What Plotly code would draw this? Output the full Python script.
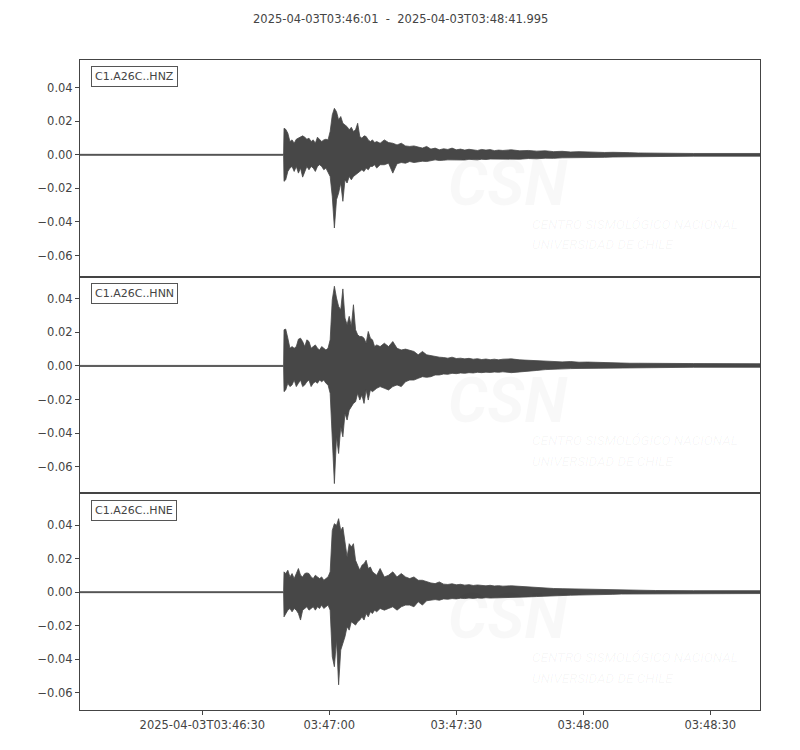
import pandas as pd
import plotly.graph_objects as go
from plotly.subplots import make_subplots

# ---------------- data ----------------
start_time = "2025-04-03T03:46:01"
end_label = "2025-04-03T03:48:41.995"
channels = ["C1.A26C..HNZ", "C1.A26C..HNN", "C1.A26C..HNE"]

# seconds after start at which the envelope was read
seconds = [0, 48.2,
           48.3, 48.7, 49.2, 49.7, 50.2, 50.7, 51.2, 51.7, 52.2, 52.7, 53.2, 53.7, 54.2, 54.7,
           55.2, 55.7, 56.2, 56.7, 57.2, 57.7, 58.2, 58.7, 59.2, 59.7, 60.2, 60.7, 61.2, 61.7,
           62.2, 62.7, 63.2, 63.7, 64.2, 64.7, 65.2, 65.7, 66.2, 66.7, 67.2, 67.7, 68.2, 68.7,
           69.2, 69.7, 70.2,
           71, 72, 73, 74, 75, 76, 77, 78, 79, 80, 81, 82, 83, 84, 85, 86, 87, 88, 89, 90,
           91, 92, 93, 94, 95, 96, 97, 98, 99, 100,
           102, 104, 106, 108, 110, 112, 114, 116, 118, 120, 122, 124, 126, 128, 130, 132, 134, 136,
           145, 161.995]

# HNZ envelope
hnz_max = [0.0003, 0.0003,
           0.0158, 0.0152, 0.0129, 0.0079, 0.0089, 0.0069, 0.0093, 0.0099, 0.0109, 0.0113, 0.0105, 0.0093, 0.0099, 0.0079,
           0.0089, 0.0069, 0.0105, 0.0093, 0.0079, 0.0089, 0.0093, 0.0089, 0.0139, 0.0238, 0.0277, 0.0257, 0.0208, 0.0228,
           0.0188, 0.0178, 0.0168, 0.0149, 0.0164, 0.0139, 0.0149, 0.0188, 0.0109, 0.0099, 0.0113, 0.0109, 0.0089, 0.0079,
           0.0089, 0.0073, 0.0079,
           0.0069, 0.0089, 0.0073, 0.0069, 0.0059, 0.0069, 0.0053, 0.0050, 0.0053, 0.0046, 0.0040, 0.0050, 0.0034, 0.0040,
           0.0030, 0.0036, 0.0032, 0.0040, 0.0030, 0.0034,
           0.0028, 0.0033, 0.0030, 0.0026, 0.0032, 0.0028, 0.0031, 0.0025, 0.0028, 0.0026,
           0.0030, 0.0024, 0.0026, 0.0022, 0.0024, 0.0019, 0.0021, 0.0017, 0.0019, 0.0016, 0.0017, 0.0014, 0.0015, 0.0012,
           0.0013, 0.0011, 0.0010, 0.0009,
           0.0008, 0.0008]
hnz_min = [-0.0003, -0.0003,
           -0.0158, -0.0149, -0.0099, -0.0079, -0.0069, -0.0099, -0.0069, -0.0109, -0.0079, -0.0133, -0.0099, -0.0069, -0.0089, -0.0069,
           -0.0079, -0.0099, -0.0069, -0.0059, -0.0069, -0.0089, -0.0079, -0.0099, -0.0129, -0.0248, -0.0436, -0.0267, -0.0228, -0.0168,
           -0.0277, -0.0149, -0.0168, -0.0129, -0.0149, -0.0129, -0.0119, -0.0109, -0.0099, -0.0089, -0.0099, -0.0079, -0.0089, -0.0069,
           -0.0069, -0.0059, -0.0079,
           -0.0059, -0.0059, -0.0050, -0.0109, -0.0053, -0.0046, -0.0050, -0.0040, -0.0046, -0.0040, -0.0038, -0.0040, -0.0034, -0.0030,
           -0.0034, -0.0032, -0.0030, -0.0028, -0.0033, -0.0030,
           -0.0031, -0.0027, -0.0029, -0.0030, -0.0026, -0.0028, -0.0025, -0.0027, -0.0024, -0.0028,
           -0.0025, -0.0026, -0.0022, -0.0024, -0.0020, -0.0021, -0.0018, -0.0019, -0.0016, -0.0017, -0.0015, -0.0015, -0.0013, -0.0013,
           -0.0011, -0.0012, -0.0010, -0.0009,
           -0.0008, -0.0008]

# HNN envelope
hnn_max = [0.0003, 0.0003,
           0.0215, 0.0219, 0.0165, 0.0105, 0.0115, 0.0105, 0.0115, 0.0159, 0.0165, 0.0145, 0.0115, 0.0155, 0.0145, 0.0105,
           0.0115, 0.0125, 0.0105, 0.0095, 0.0115, 0.0105, 0.0095, 0.0105, 0.0155, 0.0394, 0.0474, 0.0404, 0.0354, 0.0334,
           0.0458, 0.0285, 0.0245, 0.0295, 0.0235, 0.0364, 0.0215, 0.0185, 0.0175, 0.0175, 0.0165, 0.0135, 0.0205, 0.0165,
           0.0155, 0.0115, 0.0125,
           0.0115, 0.0135, 0.0115, 0.0145, 0.0105, 0.0095, 0.0100, 0.0092, 0.0086, 0.0066, 0.0086, 0.0066, 0.0060, 0.0056,
           0.0052, 0.0050, 0.0046, 0.0052, 0.0044, 0.0046,
           0.0042, 0.0045, 0.0040, 0.0043, 0.0038, 0.0041, 0.0037, 0.0040, 0.0036, 0.0040,
           0.0042, 0.0036, 0.0033, 0.0030, 0.0027, 0.0026, 0.0024, 0.0026, 0.0022, 0.0023, 0.0021, 0.0020, 0.0019, 0.0018,
           0.0016, 0.0016, 0.0015, 0.0015,
           0.0014, 0.0013]
hnn_min = [-0.0003, -0.0003,
           -0.0153, -0.0143, -0.0103, -0.0123, -0.0113, -0.0084, -0.0123, -0.0103, -0.0084, -0.0123, -0.0113, -0.0094, -0.0084, -0.0123,
           -0.0103, -0.0094, -0.0103, -0.0084, -0.0094, -0.0084, -0.0103, -0.0113, -0.0163, -0.0402, -0.0700, -0.0422, -0.0521, -0.0362,
           -0.0422, -0.0283, -0.0322, -0.0263, -0.0243, -0.0223, -0.0213, -0.0163, -0.0203, -0.0173, -0.0223, -0.0143, -0.0203, -0.0143,
           -0.0153, -0.0143, -0.0133,
           -0.0123, -0.0133, -0.0143, -0.0123, -0.0113, -0.0123, -0.0094, -0.0084, -0.0084, -0.0074, -0.0064, -0.0068, -0.0064, -0.0054,
           -0.0054, -0.0048, -0.0050, -0.0044, -0.0046, -0.0042,
           -0.0044, -0.0040, -0.0042, -0.0038, -0.0040, -0.0037, -0.0039, -0.0036, -0.0038, -0.0035,
           -0.0040, -0.0034, -0.0030, -0.0027, -0.0022, -0.0018, -0.0017, -0.0016, -0.0015, -0.0015, -0.0014, -0.0014, -0.0013, -0.0012,
           -0.0010, -0.0010, -0.0009, -0.0009,
           -0.0008, -0.0008]

# HNE envelope
hne_max = [0.0003, 0.0003,
           0.0121, 0.0111, 0.0131, 0.0091, 0.0111, 0.0081, 0.0111, 0.0141, 0.0101, 0.0091, 0.0111, 0.0115, 0.0111, 0.0091,
           0.0081, 0.0101, 0.0091, 0.0081, 0.0091, 0.0071, 0.0081, 0.0091, 0.0121, 0.0368, 0.0408, 0.0398, 0.0438, 0.0368,
           0.0388, 0.0309, 0.0210, 0.0289, 0.0269, 0.0289, 0.0190, 0.0160, 0.0131, 0.0160, 0.0170, 0.0190, 0.0141, 0.0150,
           0.0121, 0.0111, 0.0101,
           0.0141, 0.0091, 0.0101, 0.0121, 0.0091, 0.0111, 0.0091, 0.0081, 0.0091, 0.0071, 0.0071, 0.0061, 0.0055, 0.0051,
           0.0061, 0.0048, 0.0046, 0.0050, 0.0044, 0.0047,
           0.0042, 0.0045, 0.0040, 0.0043, 0.0040, 0.0038, 0.0041, 0.0037, 0.0039, 0.0036,
           0.0038, 0.0034, 0.0032, 0.0030, 0.0026, 0.0022, 0.0021, 0.0020, 0.0019, 0.0018, 0.0017, 0.0016, 0.0014, 0.0012,
           0.0011, 0.0011, 0.0010, 0.0010,
           0.0009, 0.0009]
hne_min = [-0.0003, -0.0003,
           -0.0147, -0.0127, -0.0107, -0.0097, -0.0117, -0.0097, -0.0107, -0.0127, -0.0166, -0.0107, -0.0097, -0.0087, -0.0107, -0.0097,
           -0.0087, -0.0107, -0.0087, -0.0097, -0.0077, -0.0097, -0.0087, -0.0077, -0.0107, -0.0384, -0.0444, -0.0285, -0.0552, -0.0345,
           -0.0305, -0.0265, -0.0206, -0.0226, -0.0176, -0.0186, -0.0196, -0.0176, -0.0166, -0.0147, -0.0166, -0.0127, -0.0147, -0.0117,
           -0.0127, -0.0107, -0.0117,
           -0.0097, -0.0107, -0.0097, -0.0087, -0.0107, -0.0087, -0.0077, -0.0077, -0.0087, -0.0057, -0.0077, -0.0051, -0.0048, -0.0044,
           -0.0048, -0.0040, -0.0042, -0.0038, -0.0040, -0.0036,
           -0.0038, -0.0035, -0.0037, -0.0034, -0.0036, -0.0033, -0.0035, -0.0032, -0.0033, -0.0031,
           -0.0030, -0.0030, -0.0028, -0.0026, -0.0022, -0.0020, -0.0019, -0.0018, -0.0017, -0.0016, -0.0016, -0.0015, -0.0013, -0.0011,
           -0.0010, -0.0010, -0.0009, -0.0009,
           -0.0008, -0.0008]

y_ticks = [-0.06, -0.04, -0.02, 0.0, 0.02, 0.04]
x_tick_times = ["2025-04-03 03:46:30", "2025-04-03 03:47:00", "2025-04-03 03:47:30",
                "2025-04-03 03:48:00", "2025-04-03 03:48:30"]
x_tick_labels = ["2025-04-03T03:46:30", "03:47:00", "03:47:30", "03:48:00", "03:48:30"]

# ---------------- figure ----------------
envelopes = [(hnz_max, hnz_min), (hnn_max, hnn_min), (hne_max, hne_min)]
for up, lo in envelopes:
    assert len(up) == len(seconds) and len(lo) == len(seconds)

t0 = pd.Timestamp(start_time)
times = list(t0 + pd.to_timedelta(seconds, unit="s"))

INK = "#444444"
WAVE = "#474747"
FONT = "DejaVu Sans"

fig = make_subplots(rows=3, cols=1, shared_xaxes=True, vertical_spacing=0)

for i, (up, lo) in enumerate(envelopes):
    fig.add_trace(go.Scatter(
        x=times + times[::-1], y=list(up) + list(lo)[::-1],
        mode="lines", fill="toself", fillcolor=WAVE,
        line=dict(color=WAVE, width=0.8), hoverinfo="skip", showlegend=False),
        row=i + 1, col=1)

y_ranges = [[-0.0726, 0.0565], [-0.0758, 0.0531], [-0.0702, 0.0589]]
x_range = [t0 + pd.Timedelta(seconds=0.1), t0 + pd.Timedelta(seconds=160.75)]

for i in range(3):
    fig.update_yaxes(row=i + 1, col=1, range=y_ranges[i], tickvals=y_ticks, tickformat=".2f",
                     showgrid=False, zeroline=False, showline=True, mirror=True,
                     linecolor=INK, linewidth=1, ticks="outside", ticklen=4, tickcolor=INK,
                     tickfont=dict(family=FONT, size=11.5, color=INK))
    fig.update_xaxes(row=i + 1, col=1, type="date", range=x_range, showgrid=False, zeroline=False,
                     showline=True, mirror=True, linecolor=INK, linewidth=1,
                     tickvals=x_tick_times, ticktext=x_tick_labels,
                     ticks="outside" if i == 2 else "", ticklen=4, tickcolor=INK,
                     showticklabels=(i == 2),
                     tickfont=dict(family=FONT, size=11.5, color=INK))

annotations = []
for i, ch in enumerate(channels):
    xr = "x domain" if i == 0 else f"x{i+1} domain"
    yr = "y domain" if i == 0 else f"y{i+1} domain"
    annotations += [
        dict(text="CSN", xref=xr, yref=yr, x=0.63, y=0.43, xanchor="center", yanchor="middle",
             showarrow=False, font=dict(family="Roboto", size=62, color="rgba(0,0,0,0.028)",
                                        style="italic", weight="bold")),
        dict(text="CENTRO SISMOLÓGICO NACIONAL", xref=xr, yref=yr, x=0.662, y=0.245,
             xanchor="left", yanchor="middle", showarrow=False,
             font=dict(family="Roboto", size=13.5, color="rgba(0,0,0,0.04)", style="italic")),
        dict(text="UNIVERSIDAD DE CHILE", xref=xr, yref=yr, x=0.662, y=0.15,
             xanchor="left", yanchor="middle", showarrow=False,
             font=dict(family="Roboto", size=13.5, color="rgba(0,0,0,0.04)", style="italic")),
        dict(text=ch, xref=xr, yref=yr, x=0.016, y=0.922, xanchor="left", yanchor="middle",
             showarrow=False, bgcolor="white", bordercolor="#555555", borderwidth=1, borderpad=3,
             font=dict(family=FONT, size=11, color=INK)),
    ]

title_text = start_time + "\u00a0\u00a0-\u00a0\u00a0" + end_label
annotations.append(dict(text=title_text, xref="paper", yref="paper", x=0.4706, y=1, xanchor="center",
                        yanchor="bottom", yshift=32, showarrow=False,
                        font=dict(family=FONT, size=11.5, color=INK)))

# page body adds an 8px offset, margins compensate so the axes land where the reference has them
fig.update_layout(width=800, height=750, margin=dict(l=72, r=48, t=52, b=48),
                  paper_bgcolor="white", plot_bgcolor="white", showlegend=False,
                  annotations=annotations)

fig.write_html("out.html")
